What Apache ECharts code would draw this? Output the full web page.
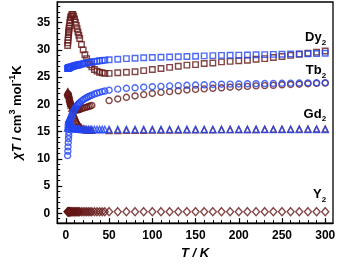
<!DOCTYPE html>
<html><head><meta charset="utf-8">
<script src="https://cdn.jsdelivr.net/npm/echarts@6/dist/echarts.min.js"></script>
<style>html,body{margin:0;padding:0;background:#fff}#c{width:338px;height:265px}</style>
</head><body><div id="c"></div>
<script>
// Temperatures (K)
const T_LOW = [2,2.25,2.5,2.75,3,3.25,3.5,3.75,4,4.5,5,5.5,6,7,8,9,10,11,12,13,14,15,16,18,20,22,24,26,28,30,33,36,39,42,45];
const T_HIGH = [50,60,70,80,90,100,110,120,130,140,150,160,170,180,190,200,210,220,230,240,250,260,270,280,290,300];

// Dy2
const dyMaroonLow = [30.8,31.3,31.8,32.3,32.8,33.2,33.6,34.0,34.4,35.0,35.5,35.9,36.2,36.5,36.5,36.2,35.7,35.1,34.5,33.9,33.3,32.7,32.1,31.0,30.0,29.1,28.4,27.8,27.3,26.9,26.4,26.1,25.9,25.8,25.7];
const dyMaroonHigh = [25.7,25.8,25.9,26.0,26.2,26.4,26.6,26.8,27.0,27.2,27.3,27.5,27.6,27.8,27.9,28.0,28.1,28.3,28.4,28.6,28.8,29.0,29.2,29.4,29.6,29.8];
const dyBlueLow = [26.6,26.62,26.64,26.66,26.68,26.7,26.72,26.74,26.76,26.79,26.82,26.85,26.88,26.93,26.98,27.03,27.08,27.12,27.16,27.2,27.24,27.28,27.32,27.4,27.47,27.54,27.6,27.66,27.72,27.78,27.86,27.93,28.0,28.06,28.12];
const dyBlueHigh = [28.2,28.3,28.4,28.48,28.55,28.6,28.65,28.7,28.75,28.8,28.85,28.9,28.95,29.0,29.02,29.05,29.08,29.1,29.14,29.18,29.2,29.24,29.28,29.3,29.34,29.4];

// Tb2
const tbBlueLow = [10.6,11.4,12.2,13.0,13.7,14.3,14.9,15.4,15.8,16.4,16.9,17.3,17.6,18.1,18.5,18.8,19.1,19.35,19.6,19.8,20.0,20.15,20.3,20.6,20.85,21.05,21.25,21.4,21.55,21.7,21.9,22.05,22.2,22.35,22.45];
const tbBlueHigh = [22.6,22.8,22.95,23.05,23.15,23.25,23.3,23.4,23.45,23.5,23.55,23.6,23.65,23.7,23.72,23.75,23.78,23.8,23.83,23.85,23.88,23.9,23.92,23.95,23.97,24.0];
const tbMaroonLow = [21.6,null,21.9,null,21.8,null,21.4,null,21.0,20.6,20.3,20.0,19.8,19.5,19.3,19.2,19.1,19.05,19.0,19.0,19.0,19.05,19.1,19.2,19.3,19.4,19.5,19.6,19.7,19.8,null,null,null,null,null];
const tbMaroonHigh = [20.7,21.0,21.3,21.55,21.8,22.0,22.2,22.35,22.5,22.65,22.75,22.85,22.95,23.05,23.15,23.2,23.3,23.4,23.45,23.5,23.6,23.65,23.7,23.8,23.85,23.9];

// Gd2
const gdBlueLow = [15.6,15.9,16.3,16.7,17.0,17.2,17.3,17.3,17.2,16.9,16.6,16.3,16.1,15.8,15.7,15.6,15.55,15.5,15.5,15.45,15.45,15.45,15.45,15.4,15.4,15.4,15.4,15.4,15.4,15.4,15.4,15.4,15.4,15.4,15.4];
const gdBlueHigh = [15.4,15.4,15.4,15.4,15.4,15.4,15.4,15.4,15.4,15.4,15.4,15.4,15.4,15.4,15.4,15.4,15.4,15.4,15.4,15.4,15.4,15.4,15.4,15.4,15.4,15.4];
const gdMaroonLow = [22.3,null,22.2,null,22.0,null,21.6,null,21.2,20.9,20.6,20.2,19.9,19.3,18.8,18.3,17.9,17.5,17.1,16.8,16.5,16.2,16.0,15.7,15.5,15.4,15.3,15.3,15.25,15.25,null,null,null,null,null];
const gdMaroonHigh = [15.2,15.2,15.22,15.24,15.25,15.27,15.28,15.3,15.3,15.32,15.33,15.34,15.35,15.36,15.37,15.38,15.39,15.4,15.41,15.42,15.43,15.44,15.45,15.46,15.47,15.48];

// Y2
const yMaroonLow = [0.28,0.28,0.28,0.28,0.28,0.28,0.28,0.28,0.28,0.28,0.28,0.28,0.28,0.28,0.28,0.28,0.28,0.28,0.28,0.28,0.28,0.28,0.28,0.28,0.28,0.28,0.28,0.28,0.28,0.28,0.28,0.28,0.28,0.28,0.28];
const yMaroonHigh = [0.3,0.3,0.3,0.3,0.3,0.3,0.3,0.3,0.3,0.3,0.3,0.3,0.3,0.3,0.3,0.3,0.3,0.3,0.3,0.3,0.3,0.3,0.3,0.3,0.3,0.3];

// Axis ticks
const X_MAJOR = [0,50,100,150,200,250,300];
const X_MINOR = [0,10,20,30,40,50,60,70,80,90,100,110,120,130,140,150,160,170,180,190,200,210,220,230,240,250,260,270,280,290,300];
const Y_MAJOR = [0,5,10,15,20,25,30,35];
const Y_MINOR = [-1,0,1,2,3,4,5,6,7,8,9,10,11,12,13,14,15,16,17,18,19,20,21,22,23,24,25,26,27,28,29,30,31,32,33,34,35,36,37,38];

// Compound labels: [name, T, chiT]
const LABELS = [['Dy',301,32.3],['Tb',301,26.2],['Gd',301,18.2],['Y',301,3.4]];

const BLUE = '#2346f4', MAROON = '#641717';
const FONT = 'Liberation Sans, Arial, sans-serif';

function pairs(low, high){
  const out=[];
  T_LOW.forEach((t,i)=>{ if(low[i]!=null) out.push([t,low[i]]); });
  T_HIGH.forEach((t,i)=>{ if(high[i]!=null) out.push([t,high[i]]); });
  return out;
}
function sc(data, symbol, size, color){
  return {type:'scatter', data, symbol, symbolSize:size, silent:true, animation:false,
    itemStyle:{color:'rgba(0,0,0,0)', borderColor:color, borderWidth:1.4}};
}

const chart = echarts.init(document.getElementById('c'), null, {renderer:'canvas'});
const xMin=-10, xMax=309, yMin=-1.8, yMax=38.8;
chart.setOption({
  animation:false,
  grid:{left:43, right:5, top:2, bottom:36, show:true, borderColor:'#000', borderWidth:1.3, backgroundColor:'transparent'},
  xAxis:[
    {type:'value', min:xMin, max:xMax, position:'bottom',
     axisLine:{onZero:false, lineStyle:{color:'#000', width:1.3}},
     axisTick:{inside:true, length:5, customValues:X_MAJOR, lineStyle:{color:'#000', width:1.2}},
     axisLabel:{customValues:X_MAJOR, color:'#000', fontFamily:FONT, fontWeight:'bold', fontSize:12, margin:7},
     splitLine:{show:false},
     name:'T / K', nameLocation:'middle', nameGap:22,
     nameTextStyle:{fontFamily:FONT, fontWeight:'bold', fontStyle:'italic', fontSize:13, color:'#000'}},
    {type:'value', min:xMin, max:xMax, position:'bottom',
     axisLine:{show:false, onZero:false},
     axisTick:{inside:true, length:3, customValues:X_MINOR, lineStyle:{color:'#000', width:1}},
     axisLabel:{show:false}, splitLine:{show:false}}
  ],
  yAxis:[
    {type:'value', min:yMin, max:yMax, position:'left',
     axisLine:{onZero:false, lineStyle:{color:'#000', width:1.3}},
     axisTick:{inside:true, length:5, customValues:Y_MAJOR, lineStyle:{color:'#000', width:1.2}},
     axisLabel:{customValues:Y_MAJOR, color:'#000', fontFamily:FONT, fontWeight:'bold', fontSize:12, margin:7},
     splitLine:{show:false},
     name:'{i|χT} / cm{sup|3} mol{sup|-1}K', nameLocation:'middle', nameGap:22, nameRotate:90,
     nameTextStyle:{fontFamily:FONT, fontWeight:'bold', fontSize:13, color:'#000', lineHeight:18,
       rich:{i:{fontFamily:FONT, fontWeight:'bold', fontStyle:'italic', fontSize:13, color:'#000', lineHeight:18},
             sup:{fontFamily:FONT, fontWeight:'bold', fontSize:9, color:'#000', verticalAlign:'top', lineHeight:10}}}},
    {type:'value', min:yMin, max:yMax, position:'left',
     axisLine:{show:false, onZero:false},
     axisTick:{inside:true, length:3, customValues:Y_MINOR, lineStyle:{color:'#000', width:1}},
     axisLabel:{show:false}, splitLine:{show:false}}
  ],
  series:[
    sc(pairs(yMaroonLow,yMaroonHigh),'diamond',[7,8],MAROON),
    sc(pairs(gdMaroonLow,gdMaroonHigh),'triangle',6,MAROON),
    sc(pairs(tbMaroonLow,tbMaroonHigh),'circle',6,MAROON),
    sc(pairs(dyMaroonLow,dyMaroonHigh),'rect',5.5,MAROON),
    sc(pairs(gdBlueLow,gdBlueHigh),'triangle',6,BLUE),
    sc(pairs(tbBlueLow,tbBlueHigh),'circle',6,BLUE),
    sc(pairs(dyBlueLow,dyBlueHigh),'rect',5.5,BLUE)
  ]
});

const g = LABELS.map(([n,t,v])=>{
  const p = chart.convertToPixel({xAxisIndex:0, yAxisIndex:0},[t,v]);
  return {type:'text', x:p[0], y:p[1], silent:true,
    style:{text:'{b|'+n+'}{s|2}', align:'right', verticalAlign:'middle',
      rich:{b:{fontFamily:FONT, fontWeight:'bold', fontSize:13, fill:'#000', lineHeight:18},
            s:{fontFamily:FONT, fontWeight:'bold', fontSize:8, fill:'#000', verticalAlign:'bottom', lineHeight:10}}}};
});
chart.setOption({graphic:g});
</script></body></html>
